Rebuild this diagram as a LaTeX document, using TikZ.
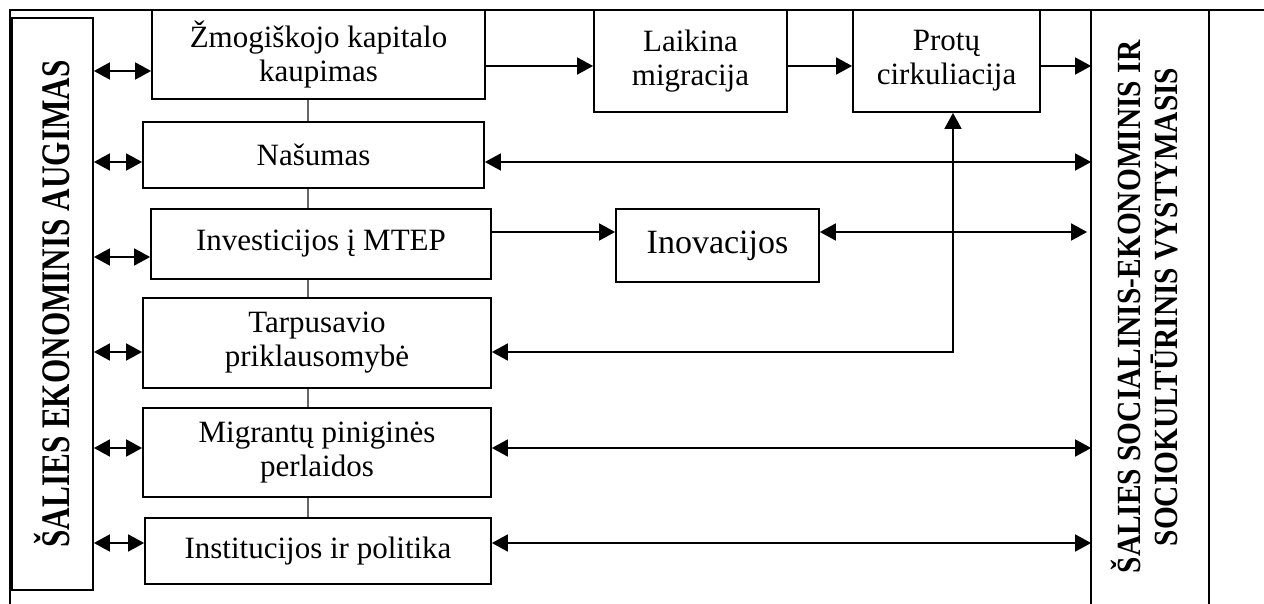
\documentclass[tikz,border=0pt]{standalone}
\usepackage{fontspec}
\setmainfont{Liberation Serif}
\usetikzlibrary{arrows.meta}

\begin{document}
\begin{tikzpicture}[x=0.5pt, y=-0.5pt, line width=0.9pt,
    >={Triangle[length=8pt, width=8.5pt]},
    blk/.style={draw, fill=white, align=center, inner sep=0pt,
      font=\fontsize{15.5}{17}\selectfont},
    side/.style={inner sep=0pt, font=\bfseries}]

    \useasboundingbox (0,0) rectangle (1264,604);

    % table frame
    \draw (10,604) -- (10,10) -- (1264,10);

    \node [side, draw, minimum width=40.5pt, minimum height=286pt] (sea) at (52.5, 304)
      {\fontsize{15.6}{18}\selectfont\rotatebox{90}{\scalebox{1}[1.3]{ŠALIES EKONOMINIS AUGIMAS}}};
    \node [side, minimum width=58pt, minimum height=297pt] (ssv) at (1150, 307)
      {\fontsize{14.7}{16}\selectfont\rotatebox{90}{\scalebox{1}[1.15]{\begin{tabular}{@{}c@{}}ŠALIES SOCIALINIS-EKONOMINIS IR\\SOCIOKULTŪRINIS VYSTYMASIS\end{tabular}}}};
    \draw (ssv.north west) -- (ssv.south west) (ssv.north east) -- (ssv.south east);

    \node [blk, minimum width=166.5pt, minimum height=44.5pt] (zk) at (318.5, 54.5) {Žmogiškojo kapitalo\\kaupimas};
    \node [blk, minimum width=96.5pt, minimum height=51pt] (lm) at (690.5, 61) {Laikina\\migracija};
    \node [blk, minimum width=93.5pt, minimum height=51pt] (pc) at (946.5, 61) {Protų\\cirkuliacija};
    \node [blk, minimum width=170.5pt, minimum height=33pt] (na) at (313.5, 155) {Našumas};
    \node [blk, minimum width=170pt, minimum height=35pt] (inv) at (321, 244) {Investicijos į MTEP};
    \node [blk, minimum width=101.5pt, minimum height=36.5pt, font=\fontsize{17}{20}\selectfont] (ino) at (717.5, 245.5) {Inovacijos};
    \node [blk, minimum width=174pt, minimum height=45pt] (tp) at (317, 343) {Tarpusavio\\priklausomybė};
    \node [blk, minimum width=174pt, minimum height=44.5pt] (mpp) at (317, 452.5) {Migrantų piniginės\\perlaidos};
    \node [blk, minimum width=173pt, minimum height=33pt] (ip) at (318, 551) {Institucijos ir politika};

    % links between the left boxes
    \path[black!60]
      (308,0 |- zk.south) edge (308,0 |- na.north)
      (308,0 |- na.south) edge (308,0 |- inv.north)
      (308,0 |- inv.south) edge (308,0 |- tp.north)
      (308,0 |- tp.south) edge (308,0 |- mpp.north)
      (308,0 |- mpp.south) edge (308,0 |- ip.north);

    \path[->]
      (zk.east |- 0,66) edge (lm.west |- 0,66)
      (lm.east |- 0,66) edge (pc.west |- 0,66)
      (pc.east |- 0,66) edge (ssv.west |- 0,66)
      (inv.east |- 0,232) edge (ino.west |- 0,232);

    \path[<->]
      (sea.east |- 0,71) edge (zk.west |- 0,71)
      (sea.east |- 0,162) edge (na.west |- 0,162)
      (sea.east |- 0,257) edge (inv.west |- 0,257)
      (sea.east |- 0,352) edge (tp.west |- 0,352)
      (sea.east |- 0,448) edge (mpp.west |- 0,448)
      (sea.east |- 0,543) edge (ip.west |- 0,543)
      (na.east |- 0,162) edge (ssv.west |- 0,162)
      (ino.east |- 0,232) edge ([xshift=-2pt]ssv.west |- 0,232)
      (mpp.east |- 0,448) edge (ssv.west |- 0,448)
      (ip.east |- 0,543) edge (ssv.west |- 0,543);

    \draw[<->] (tp.east |- 0,352) -| ([xshift=3.25pt]pc.south);
\end{tikzpicture}
\end{document}
